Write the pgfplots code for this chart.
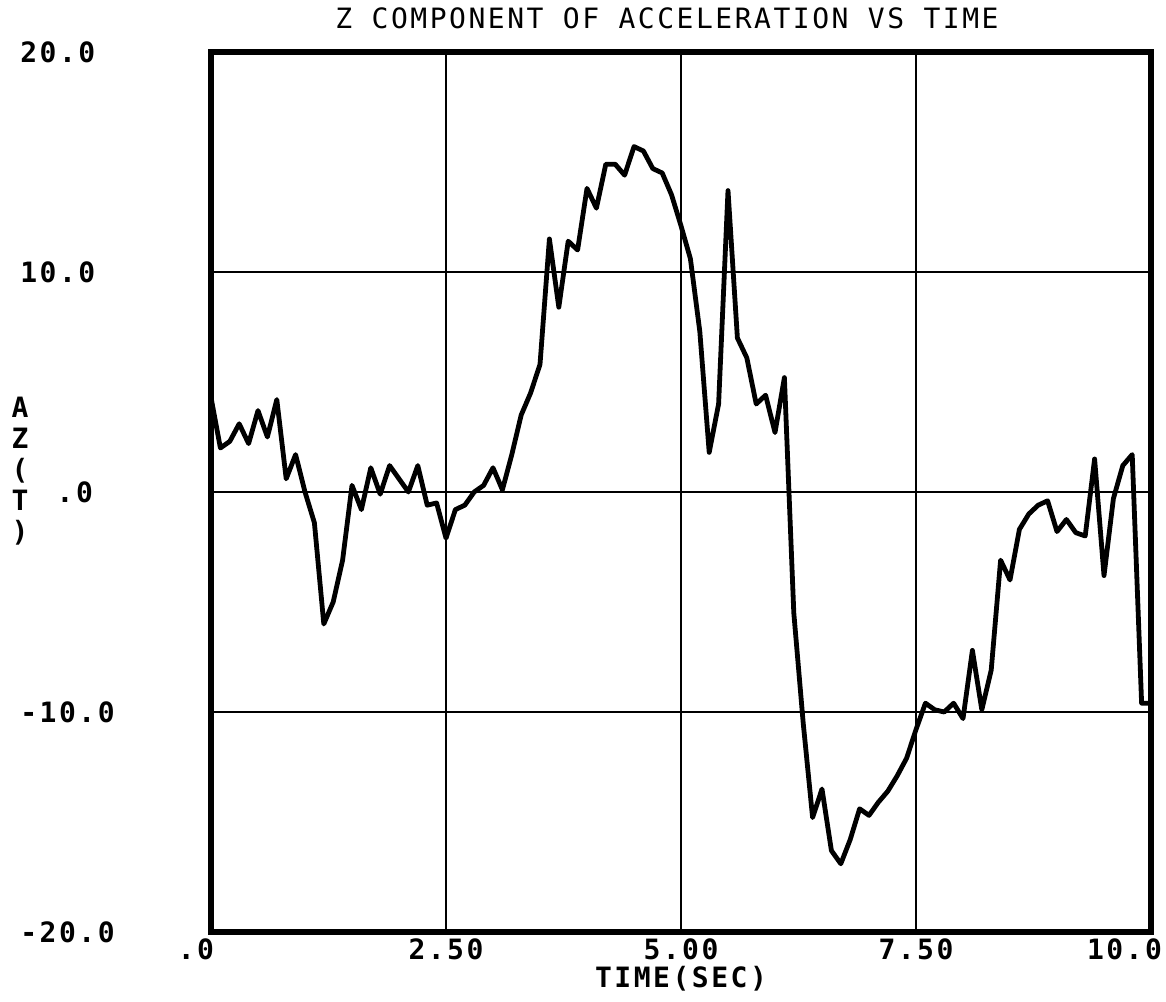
\documentclass[border=0pt]{standalone}
\usepackage{pgfplots}
\pgfplotsset{compat=1.18}
\usepackage{fontspec}
\setmainfont{DejaVu Sans Mono}[LetterSpace=9]
\usetikzlibrary{calc}

\begin{document}
\begin{tikzpicture}
\begin{axis}[
  scale only axis,
  width=470pt, height=440pt,
  clip mode=individual,
  xmin=0, xmax=10, ymin=-20, ymax=20,
  xtick={0,2.5,5,7.5,10},
  xticklabels={\hspace*{3pt}\llap{.0},2.50,5.00,7.50,\hspace*{11pt}\llap{10.0}},
  ytick={-20,-10,0,10,20},
  yticklabels={-20.0,-10.0,\phantom{10}.0,10.0,20.0},
  major tick length=0pt,
  grid=major,
  grid style={black, line width=1.3pt},
  axis line style={black, line width=2.6pt},
  tick label style={font=\fontsize{14}{16}\selectfont\bfseries, inner sep=0pt},
  yticklabel style={anchor=west, xshift=-95.5pt},
  xticklabel style={anchor=center, yshift=-8.75pt},
  title={Z COMPONENT OF ACCELERATION VS TIME},
  title style={font=\fontsize{14}{16}\selectfont, at={(axis description cs:0.5,1)}, anchor=center, yshift=11pt, xshift=-7pt},
  xlabel={TIME(SEC)},
  xlabel style={font=\fontsize{14}{16}\selectfont\bfseries, at={(axis description cs:0.5,0)}, anchor=center, yshift=-23.5pt, inner sep=0pt},
]
\addplot[black, line width=2.4pt, line join=round, line cap=round] table {
t a
0.0 4.3
0.1 2.0
0.2 2.3
0.3 3.1
0.4 2.2
0.5 3.7
0.6 2.5
0.7 4.2
0.8 0.6
0.9 1.7
1.0 0.0
1.1 -1.4
1.2 -6.0
1.3 -5.0
1.4 -3.1
1.5 0.3
1.6 -0.8
1.7 1.1
1.8 -0.1
1.9 1.2
2.0 0.6
2.1 0.0
2.2 1.2
2.3 -0.6
2.4 -0.5
2.5 -2.1
2.6 -0.8
2.7 -0.6
2.8 0.0
2.9 0.3
3.0 1.1
3.1 0.1
3.2 1.7
3.3 3.5
3.4 4.5
3.5 5.8
3.6 11.5
3.7 8.4
3.8 11.4
3.9 11.0
4.0 13.8
4.1 12.9
4.2 14.9
4.3 14.9
4.4 14.4
4.5 15.7
4.6 15.5
4.7 14.7
4.8 14.5
4.9 13.5
5.0 12.1
5.1 10.6
5.2 7.3
5.3 1.8
5.4 4.0
5.5 13.7
5.6 7.0
5.7 6.1
5.8 4.0
5.9 4.4
6.0 2.7
6.1 5.2
6.2 -5.5
6.3 -10.5
6.4 -14.8
6.5 -13.5
6.6 -16.3
6.7 -16.9
6.8 -15.8
6.9 -14.4
7.0 -14.7
7.1 -14.1
7.2 -13.6
7.3 -12.9
7.4 -12.1
7.5 -10.8
7.6 -9.6
7.7 -9.9
7.8 -10.0
7.9 -9.6
8.0 -10.3
8.1 -7.2
8.2 -9.9
8.3 -8.1
8.4 -3.1
8.5 -4.0
8.6 -1.7
8.7 -1.0
8.8 -0.6
8.9 -0.4
9.0 -1.8
9.1 -1.25
9.2 -1.85
9.3 -2.0
9.4 1.5
9.5 -3.8
9.6 -0.3
9.7 1.2
9.8 1.7
9.9 -9.6
10.0 -9.6
};
% stacked vertical axis label
\node[align=center, font=\fontsize{14}{15.5}\selectfont\bfseries, inner sep=0pt]
  at (axis description cs:0,0.5) [xshift=-95.5pt, yshift=10.5pt] {A\\Z\\(\\T\\)};
\coordinate (sw) at (rel axis cs:0,0);
\coordinate (ne) at (rel axis cs:1,1);
\end{axis}
\pgfresetboundingbox
\path ($(sw)+(-105.5pt,-35pt)$) rectangle ($(ne)+(7.5pt,26pt)$);
\end{tikzpicture}
\end{document}
